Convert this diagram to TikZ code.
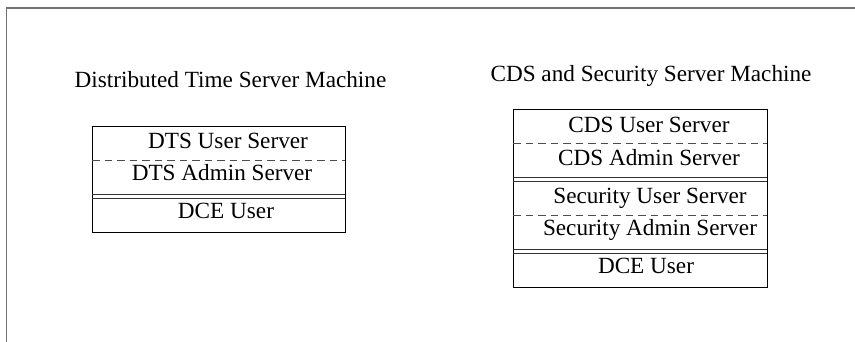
\documentclass[tikz,border=0pt]{standalone}
\usepackage{fontspec}
\setmainfont{Liberation Serif}
\begin{document}
\begin{tikzpicture}[x=1pt,y=-1pt,
  frame/.style={draw=black!55,line width=1.6pt},
  boxline/.style={draw=black,line width=1pt},
  sepline/.style={draw=black!80,line width=0.9pt},
  dashline/.style={draw=black!70,line width=0.9pt,dash pattern=on 7.5pt off 5pt},
  lbl/.style={anchor=base,inner sep=0pt,font=\fontsize{23.2}{27}\selectfont}]
\useasboundingbox (0,0) rectangle (855,341);
% outer frame (only top and left edges visible)
\draw[frame] (6.5,342) -- (6.5,8) -- (856,8);

% titles
\node[lbl] (t1) at (230.5,87) {Distributed Time Server Machine};
\node[lbl] (t2) at (651,81) {CDS and Security Server Machine};

% left box
\draw[boxline] (92,126) rectangle (345,232);
\draw[dashline] (92,160) -- (345,160);
\draw[sepline] (92,194) -- (345,194);
\draw[sepline] (92,198) -- (345,198);
\node[lbl] (l1) at (228,148) {DTS User Server};
\node[lbl] (l2) at (222,180) {DTS Admin Server};
\node[lbl] (l3) at (226,218) {DCE User};

% right box
\draw[boxline] (513,109) rectangle (767,287);
\draw[dashline] (513,143) -- (767,143);
\draw[sepline] (513,177) -- (767,177);
\draw[sepline] (513,181) -- (767,181);
\draw[dashline] (513,215) -- (767,215);
\draw[sepline] (513,249) -- (767,249);
\draw[sepline] (513,253) -- (767,253);
\node[lbl] (r1) at (649,132) {CDS User Server};
\node[lbl] (r2) at (649,165) {CDS Admin Server};
\node[lbl] (r3) at (650,203) {Security User Server};
\node[lbl] (r4) at (650,235) {Security Admin Server};
\node[lbl] (r5) at (646,273) {DCE User};
\end{tikzpicture}
\end{document}
